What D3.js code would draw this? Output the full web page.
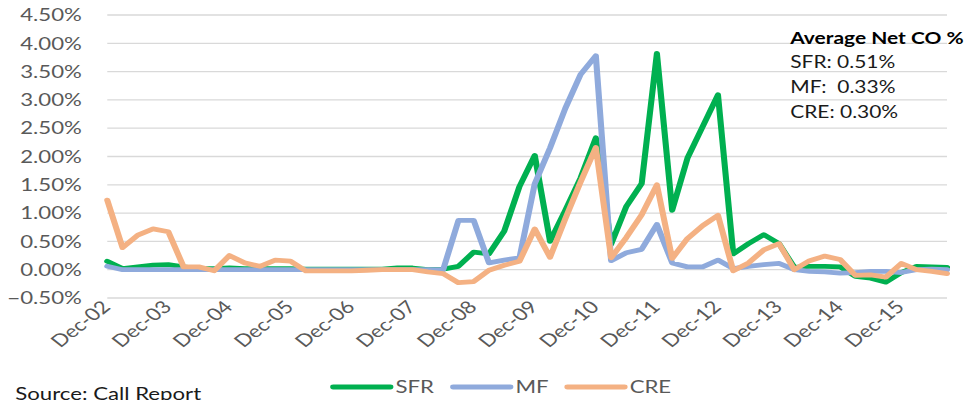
<!DOCTYPE html>
<html>
<head>
<meta charset="utf-8">
<script src="https://cdn.jsdelivr.net/npm/d3@7"></script>
<style>
  html, body { margin: 0; padding: 0; background: #fff; }
  svg { display: block; }
</style>
</head>
<body>
<div id="chart"></div>
<script>
// quarterly categories, Dec-02 .. Sep-16
var quarters = [
  'Dec-02', 'Mar-03', 'Jun-03', 'Sep-03', 'Dec-03', 'Mar-04', 'Jun-04', 'Sep-04',
  'Dec-04', 'Mar-05', 'Jun-05', 'Sep-05', 'Dec-05', 'Mar-06', 'Jun-06', 'Sep-06',
  'Dec-06', 'Mar-07', 'Jun-07', 'Sep-07', 'Dec-07', 'Mar-08', 'Jun-08', 'Sep-08',
  'Dec-08', 'Mar-09', 'Jun-09', 'Sep-09', 'Dec-09', 'Mar-10', 'Jun-10', 'Sep-10',
  'Dec-10', 'Mar-11', 'Jun-11', 'Sep-11', 'Dec-11', 'Mar-12', 'Jun-12', 'Sep-12',
  'Dec-12', 'Mar-13', 'Jun-13', 'Sep-13', 'Dec-13', 'Mar-14', 'Jun-14', 'Sep-14',
  'Dec-14', 'Mar-15', 'Jun-15', 'Sep-15', 'Dec-15', 'Mar-16', 'Jun-16', 'Sep-16'
];
var xLabels = ['Dec-02', 'Dec-03', 'Dec-04', 'Dec-05', 'Dec-06', 'Dec-07', 'Dec-08',
  'Dec-09', 'Dec-10', 'Dec-11', 'Dec-12', 'Dec-13', 'Dec-14', 'Dec-15'];
var yTicks = [-0.5, 0, 0.5, 1, 1.5, 2, 2.5, 3, 3.5, 4, 4.5];

// net charge-off rates, %
var sfr = [
  0.15, 0.02, 0.05, 0.08, 0.09, 0.05, 0.02, 0.02,
  0.03, 0.02, 0.02, 0.02, 0.02, 0.01, 0.01, 0.01,
  0.01, 0.01, 0.01, 0.03, 0.03, 0.00, 0.01, 0.06,
  0.31, 0.28, 0.68, 1.47, 2.02, 0.50, 1.05, 1.62,
  2.33, 0.45, 1.12, 1.52, 3.82, 1.05, 1.97, 2.53,
  3.09, 0.28, 0.46, 0.62, 0.46, 0.04, 0.06, 0.06,
  0.05, -0.12, -0.15, -0.22, -0.05, 0.06, 0.05, 0.04
];
var mf = [
  0.06, 0.00, 0.00, 0.00, 0.00, 0.00, 0.00, 0.00,
  0.00, 0.00, 0.00, 0.00, 0.00, 0.00, 0.00, 0.00,
  0.00, 0.00, 0.00, 0.00, 0.00, 0.00, 0.00, 0.87,
  0.87, 0.12, 0.17, 0.21, 1.52, 2.15, 2.85, 3.45,
  3.78, 0.16, 0.30, 0.36, 0.80, 0.12, 0.05, 0.05,
  0.17, 0.02, 0.06, 0.09, 0.11, 0.00, -0.03, -0.04,
  -0.06, -0.05, -0.03, -0.03, -0.05, 0.00, 0.01, 0.00
];
var cre = [
  1.23, 0.39, 0.61, 0.72, 0.67, 0.05, 0.05, -0.02,
  0.25, 0.12, 0.06, 0.17, 0.15, -0.02, -0.02, -0.02,
  -0.02, -0.01, 0.00, 0.00, 0.00, -0.04, -0.07, -0.23,
  -0.21, -0.01, 0.08, 0.15, 0.72, 0.22, 0.90, 1.55,
  2.16, 0.21, 0.57, 0.97, 1.50, 0.20, 0.55, 0.78,
  0.96, -0.02, 0.12, 0.35, 0.46, 0.00, 0.16, 0.24,
  0.18, -0.10, -0.09, -0.13, 0.11, 0.00, -0.03, -0.07
];

var seriesNames = ['SFR', 'MF', 'CRE'];
var seriesColors = ['#00b050', '#8faadc', '#f4b183'];
var noteLines = ['SFR: 0.51%', 'MF:  0.33%', 'CRE: 0.30%'];

// the original picture is horizontally stretched, so draw in a narrower
// space and let the viewBox stretch it out to 980 wide
var outW = 980, outH = 400;
var W = 772, H = 400;
var font = 'Lato, "Liberation Sans", sans-serif';

var svg = d3.select('#chart').append('svg')
  .attr('width', outW)
  .attr('height', outH)
  .attr('viewBox', `0 0 ${W} ${H}`)
  .attr('preserveAspectRatio', 'none');

var plotLeft = 84.5, plotRight = 746, plotTop = 15, plotBottom = 298;

var x = d3.scalePoint().domain(quarters).range([plotLeft, plotRight]);
var y = d3.scaleLinear().domain([-0.5, 4.5]).range([plotBottom, plotTop]);

// gridlines
svg.append('g')
  .selectAll('line')
  .data(yTicks)
  .join('line')
  .attr('x1', plotLeft)
  .attr('x2', plotRight)
  .attr('y1', d => y(d))
  .attr('y2', d => y(d))
  .attr('stroke', '#d9d9d9')
  .attr('stroke-width', 1.3);

// y labels
svg.append('g')
  .selectAll('text')
  .data(yTicks)
  .join('text')
  .attr('x', 64.5)
  .attr('y', d => y(d))
  .attr('dy', '0.36em')
  .attr('text-anchor', 'end')
  .attr('font-family', font)
  .attr('font-size', 17.5)
  .attr('fill', '#595959')
  .text(d => d3.format('.2f')(d) + '%');

// x axis labels, rotated
var xAxis = svg.append('g')
  .attr('transform', `translate(0, ${plotBottom})`)
  .call(d3.axisBottom(x).tickValues(xLabels).tickSize(0));
xAxis.select('.domain').remove();
xAxis.selectAll('text')
  .attr('x', 0)
  .attr('y', 0)
  .attr('dy', 0)
  .attr('transform', 'translate(3, 10) rotate(-45)')
  .attr('text-anchor', 'end')
  .attr('font-family', font)
  .attr('font-size', 17.5)
  .attr('fill', '#595959');

// lines
var line = d3.line()
  .x((d, i) => x(quarters[i]))
  .y(d => y(d));

[sfr, mf, cre].forEach(function(vals, k) {
  svg.append('path')
    .datum(vals)
    .attr('fill', 'none')
    .attr('stroke', seriesColors[k])
    .attr('stroke-width', 4.8)
    .attr('stroke-linejoin', 'round')
    .attr('stroke-linecap', 'round')
    .attr('d', line);
});

// note box
var note = svg.append('g').attr('font-family', font);
note.append('text')
  .attr('x', 622.5)
  .attr('y', 44)
  .attr('font-size', 16.5)
  .attr('font-weight', 'bold')
  .attr('fill', '#000')
  .text('Average Net CO %');
note.selectAll('text.line')
  .data(noteLines)
  .join('text')
  .attr('class', 'line')
  .attr('x', 622.5)
  .attr('y', (d, i) => 68.5 + i * 24.7)
  .attr('font-size', 16.5)
  .attr('fill', '#1a1a1a')
  .attr('xml:space', 'preserve')
  .style('white-space', 'pre')
  .text(d => d);

// legend
var legendX = [262.5, 357, 447];
var legend = svg.append('g');
seriesNames.forEach(function(name, k) {
  legend.append('line')
    .attr('x1', legendX[k])
    .attr('x2', legendX[k] + 45)
    .attr('y1', 387)
    .attr('y2', 387)
    .attr('stroke', seriesColors[k])
    .attr('stroke-width', 4.8)
    .attr('stroke-linecap', 'round');
  legend.append('text')
    .attr('x', legendX[k] + 49)
    .attr('y', 387)
    .attr('dy', '0.36em')
    .attr('font-family', font)
    .attr('font-size', 17.5)
    .attr('fill', '#595959')
    .text(name);
});

// source (cut off at the bottom edge, as in the original)
svg.append('text')
  .attr('x', 12)
  .attr('y', 400)
  .attr('font-family', font)
  .attr('font-size', 17.5)
  .attr('fill', '#1a1a1a')
  .text('Source: Call Report');
</script>
</body>
</html>
